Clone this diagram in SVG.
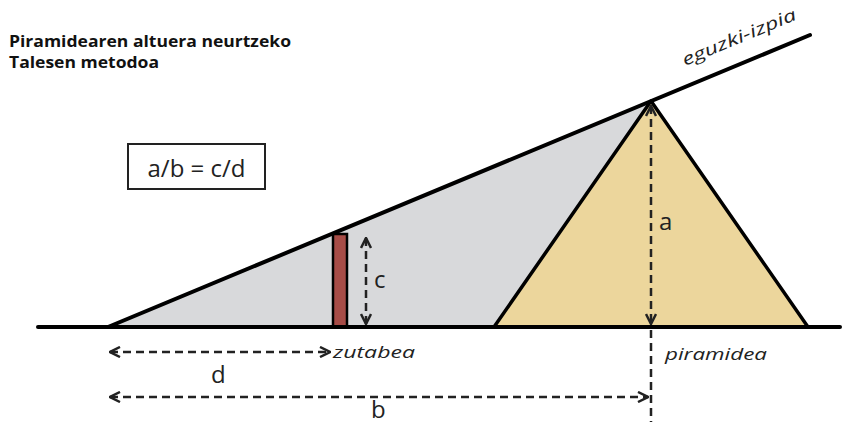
<svg xmlns="http://www.w3.org/2000/svg" width="856" height="425" viewBox="0 0 856 425">
<defs>
<marker id="ah" viewBox="0 0 10 10" refX="9" refY="5" markerWidth="5" markerHeight="5" orient="auto-start-reverse" markerUnits="strokeWidth">
<path d="M1,1 L9,5 L1,9" fill="none" stroke="#222" stroke-width="2"/>
</marker>
</defs>
<style>
.title{font-family:"Open Sans","Liberation Sans",Arial,sans-serif;font-weight:bold;font-size:15.5px;fill:#111}
.lbl{font-family:"Open Sans","Liberation Sans",sans-serif;font-size:24px;fill:#222}
.it{font-family:"Open Sans","Liberation Sans",sans-serif;font-style:italic;font-size:17px;fill:#222}
.dash{fill:none;stroke:#222;stroke-width:2.5;stroke-dasharray:8,5}
.solid{fill:none;stroke:#000;stroke-width:4;stroke-linecap:round}
</style>
<rect width="856" height="425" fill="#fff"/>
<g id="title">
<text class="title" x="9" y="47" textLength="282" lengthAdjust="spacingAndGlyphs">Piramidearen altuera neurtzeko</text>
<text class="title" x="9" y="68" textLength="150" lengthAdjust="spacingAndGlyphs">Talesen metodoa</text>
</g>
<g id="shadow">
<polygon points="108,327 651,101 651,327" fill="#d8d9db"/>
</g>
<g id="pyramid">
<polygon points="494,327 651,101 808,327" fill="#ecd69c" stroke="#000" stroke-width="3.5" stroke-linejoin="round"/>
</g>
<g id="pole">
<rect x="333" y="234" width="14" height="93" fill="#a74c47" stroke="#000" stroke-width="2.5"/>
</g>
<g id="formula">
<rect x="128" y="144" width="137" height="45" fill="#fff" stroke="#222" stroke-width="2"/>
<text class="lbl" x="196.5" y="177" text-anchor="middle" font-size="26">a/b = c/d</text>
</g>
<g id="connectors">
<line class="solid" x1="38" y1="327" x2="840" y2="327"/>
<line class="solid" x1="108" y1="327" x2="810" y2="35"/>
<line class="dash" x1="366" y1="238" x2="366" y2="324" marker-start="url(#ah)" marker-end="url(#ah)"/>
<line class="dash" x1="651" y1="106" x2="651" y2="324" marker-start="url(#ah)" marker-end="url(#ah)"/>
<line class="dash" x1="651" y1="330" x2="651" y2="422"/>
<line class="dash" x1="110" y1="352" x2="330" y2="352" marker-start="url(#ah)" marker-end="url(#ah)"/>
<line class="dash" x1="110" y1="397" x2="648" y2="397" marker-start="url(#ah)" marker-end="url(#ah)"/>
</g>
<g id="labels">
<text class="lbl" x="374" y="288">c</text>
<text class="lbl" x="659" y="230">a</text>
<text class="lbl" x="211" y="383">d</text>
<text class="lbl" x="371" y="418" font-size="22">b</text>
<text class="it" x="333" y="358" textLength="82" lengthAdjust="spacingAndGlyphs">zutabea</text>
<text class="it" x="665" y="360" textLength="102" lengthAdjust="spacingAndGlyphs">piramidea</text>
<text class="it" x="0" y="0" transform="translate(685,66) rotate(-22.6)" textLength="122" lengthAdjust="spacingAndGlyphs">eguzki-izpia</text>
</g>
</svg>
